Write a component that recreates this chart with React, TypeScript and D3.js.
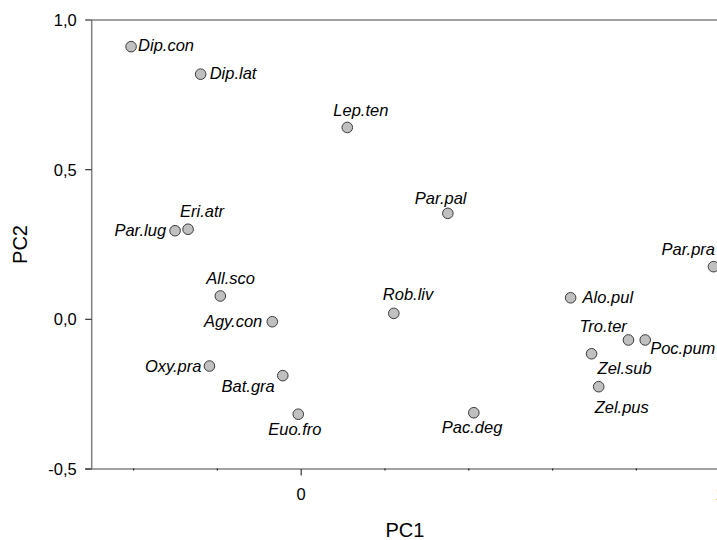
import React from "react";
import * as d3 from "d3";

// ---- data ----
const species = [
  "Dip.con", "Dip.lat", "Lep.ten", "Par.pal", "Par.lug", "Eri.atr", "All.sco",
  "Agy.con", "Oxy.pra", "Bat.gra", "Euo.fro", "Rob.liv", "Pac.deg", "Alo.pul",
  "Tro.ter", "Poc.pum", "Zel.sub", "Zel.pus", "Par.pra",
];
const pc1 = [
  -0.406, -0.240, 0.110, 0.350, -0.301, -0.270, -0.193,
  -0.069, -0.219, -0.044, -0.007, 0.221, 0.412, 0.643,
  0.781, 0.821, 0.693, 0.710, 0.984,
];
const pc2 = [
  0.911, 0.819, 0.641, 0.354, 0.296, 0.301, 0.078,
  -0.008, -0.156, -0.188, -0.317, 0.020, -0.312, 0.072,
  -0.069, -0.069, -0.115, -0.225, 0.176,
];
const xMajorTicks = [0, 1];
const xMinorTicks = [-0.4, -0.2, 0.2, 0.4, 0.6, 0.8];
const yTicks = [-0.5, 0, 0.5, 1.0];
const xTitle = "PC1";
const yTitle = "PC2";

// label placement (annotation layout): anchor + pixel offset from the point
const labelAnchor = [
  "start", "start", "start", "start", "end", "start", "start",
  "end", "end", "end", "start", "start", "start", "start",
  "start", "start", "start", "start", "start",
];
const labelDx = [7, 9, -14, -33, -9, -8, -14, -10, -8, -8, -30, -11, -32, 12, -49, 5, 6, -4, -52];
const labelDy = [4, 5, -11, -9, 5, -12, -12, 5, 6, 16, 21, -13, 20, 5, -8, 14, 20, 26, -12];

const W = 717;
const H = 540;
const fmt = (v: number) => d3.format(".1f")(v).replace(".", ",").replace("−", "-");

export default function App() {
  const x = d3.scaleLinear().domain([-0.5, 1.0]).range([91.7, 720.2]);
  const y = d3.scaleLinear().domain([-0.5, 1.0]).range([469, 20]);
  const [x0, x1] = x.range();
  const [yb, yt] = y.range();
  const font = "'Liberation Sans', Arial, sans-serif";
  const axisColor = "#808080";

  return (
    <svg
      width={W}
      height={H}
      style={{ position: "absolute", left: 0, top: 0, background: "#fff" }}
      fontFamily={font}
    >
      {/* frame lines */}
      <line x1={x0} x2={x1} y1={yt} y2={yt} stroke={axisColor} strokeWidth={1.5} />
      <line x1={x0} x2={x0} y1={yt} y2={yb} stroke={axisColor} strokeWidth={1.5} />
      <line x1={x0 - 6.5} x2={x1} y1={yb} y2={yb} stroke={axisColor} strokeWidth={1.5} />

      {/* y ticks */}
      {yTicks.map((t) => (
        <g key={"y" + t}>
          <line x1={x0 - 6.5} x2={x0} y1={y(t)} y2={y(t)} stroke="#333" strokeWidth={1.2} />
          <text x={x0 - 15} y={y(t)} dy="0.36em" textAnchor="end" fontSize={16.5} fill="#000">
            {fmt(t)}
          </text>
        </g>
      ))}

      {/* x major ticks */}
      {xMajorTicks.map((t) => (
        <g key={"x" + t}>
          <line x1={x(t)} x2={x(t)} y1={yb} y2={yb + 6.5} stroke="#333" strokeWidth={1.2} />
          <text x={x(t)} y={yb + 25} dy="0.36em" textAnchor="middle" fontSize={16.5} fill="#000">
            {d3.format("d")(t)}
          </text>
        </g>
      ))}
      {/* x minor ticks */}
      {xMinorTicks.map((t) => (
        <line key={"m" + t} x1={x(t)} x2={x(t)} y1={yb - 0.5} y2={yb + 1.5} stroke="#222" strokeWidth={1.2} />
      ))}

      {/* axis titles */}
      <text x={(x0 + 718) / 2} y={530} dy="0.36em" textAnchor="middle" fontSize={20} fill="#000">
        {xTitle}
      </text>
      <text
        transform={`translate(20,${(yt + yb) / 2}) rotate(-90)`}
        dy="0.36em"
        textAnchor="middle"
        fontSize={20}
        fill="#000"
      >
        {yTitle}
      </text>

      {/* points */}
      {species.map((s, i) => (
        <circle key={"c" + s} cx={x(pc1[i])} cy={y(pc2[i])} r={5.3} fill="#c0c0c0" stroke="#3a3a3a" strokeWidth={1} />
      ))}
      {species.map((s, i) => (
        <text
          key={"t" + s}
          x={x(pc1[i]) + labelDx[i]}
          y={y(pc2[i]) + labelDy[i]}
          textAnchor={labelAnchor[i]}
          fontSize={16.5}
          fontStyle="italic"
          fill="#000"
        >
          {s}
        </text>
      ))}
    </svg>
  );
}
